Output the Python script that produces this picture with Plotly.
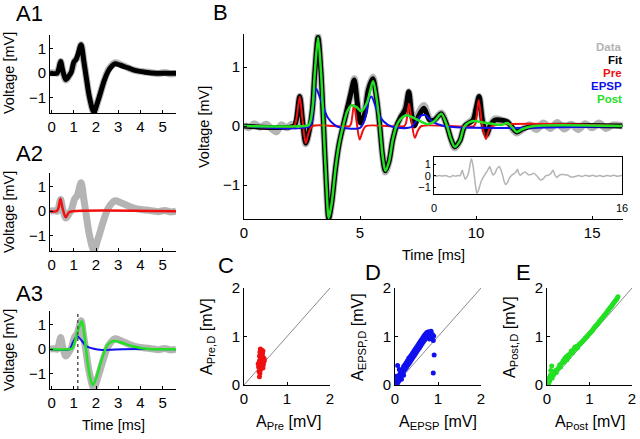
import plotly.graph_objects as go

W, H = 640, 439
FONT = "Liberation Sans, Arial, sans-serif"

GREY = "#b4b4b4"
RED = "#f01010"
BLUE = "#1010ee"
GREEN = "#22e022"

# ---- panel A (single event, time in ms, voltage in mV) ----
A_DATA = [(-0.07, 0.0), (0.1, 0.02), (0.25, 0.0), (0.33, 0.2), (0.41, 0.47), (0.5, 0.1),
          (0.64, -0.28), (0.78, -0.12), (0.89, 0.05), (1.04, 0.5), (1.15, 0.62), (1.33, 1.15),
          (1.45, 0.5), (1.55, -0.1), (1.7, -0.95), (1.9, -1.6), (2.1, -1.1), (2.37, -0.3),
          (2.55, 0.12), (2.67, 0.28), (2.86, 0.42), (3.1, 0.35), (3.48, 0.2), (3.8, 0.1),
          (4.22, 0.05), (4.5, 0.02), (4.8, -0.02), (5.1, 0.03), (5.35, -0.03), (5.6, 0.0)]
A_FIT = [(-0.07, 0.0), (0.25, 0.0), (0.33, 0.2), (0.41, 0.47), (0.5, 0.12), (0.64, -0.26),
         (0.78, -0.12), (0.89, 0.04), (1.0, 0.45), (1.1, 0.55), (1.2, 0.8), (1.33, 1.15),
         (1.45, 0.5), (1.55, -0.1), (1.7, -0.95), (1.9, -1.58), (2.1, -1.1), (2.37, -0.3),
         (2.55, 0.08), (2.67, 0.24), (2.86, 0.38), (3.1, 0.32), (3.48, 0.2), (3.8, 0.1),
         (4.22, 0.04), (4.7, 0.0), (5.6, 0.0)]
A_PRE = [(-0.07, 0.0), (0.22, 0.0), (0.3, 0.1), (0.4, 0.5), (0.5, 0.1), (0.64, -0.25),
         (0.78, -0.05), (0.95, 0.0), (5.6, 0.0)]
A_EPSP = [(-0.07, 0.0), (0.81, 0.0), (0.95, 0.25), (1.15, 0.53), (1.35, 0.35), (1.55, 0.13),
          (1.75, 0.05), (2.0, 0.0), (2.3, -0.03), (2.7, -0.02), (3.2, 0.0), (5.6, 0.0)]
A_POST = [(-0.07, 0.0), (0.85, 0.0), (0.95, 0.05), (1.04, 0.28), (1.2, 0.8), (1.36, 1.13),
          (1.45, 0.75), (1.55, 0.0), (1.7, -1.0), (1.85, -1.47), (2.0, -1.2), (2.22, -0.53),
          (2.49, 0.13), (2.65, 0.28), (2.86, 0.33), (3.2, 0.25), (3.6, 0.13), (4.0, 0.05),
          (4.5, 0.0), (5.6, 0.0)]
A_MARK_T = 1.18

# ---- panel B (full trace) ----
B_DATA = [(0, 0.02), (0.2, -0.03), (0.45, 0.04), (0.7, -0.02), (0.95, 0.03), (1.2, -0.05),
          (1.4, -0.1), (1.6, 0.02), (1.85, -0.03), (2.05, 0.03), (2.2, 0.0), (2.27, 0.1),
          (2.4, 0.5), (2.52, 0.1), (2.66, -0.3), (2.8, -0.1), (2.95, 0.3), (3.05, 0.9),
          (3.19, 1.52), (3.32, 0.9), (3.43, 0.0), (3.55, -1.0), (3.65, -1.57), (3.78, -1.3),
          (3.95, -0.7), (4.1, -0.3), (4.27, 0.0), (4.45, 0.3), (4.6, 0.55), (4.75, 0.8),
          (4.88, 0.42), (5.02, 0.08), (5.2, 0.25), (5.35, 0.62), (5.55, 0.83), (5.72, 0.45),
          (5.85, 0.0), (5.97, -0.5), (6.09, -0.78), (6.25, -0.6), (6.4, -0.25), (6.57, 0.0),
          (6.75, 0.15), (6.95, 0.3), (7.1, 0.58), (7.22, 0.22), (7.35, 0.05), (7.5, 0.2),
          (7.75, 0.35), (8.0, 0.12), (8.2, 0.1), (8.5, 0.22), (8.75, 0.0), (8.9, -0.2),
          (9.08, -0.37), (9.3, -0.25), (9.51, 0.0), (9.87, 0.12), (10.0, 0.3), (10.13, 0.5),
          (10.27, 0.12), (10.45, -0.15), (10.6, 0.0), (10.8, 0.12), (11.1, 0.1), (11.35, 0.07),
          (11.55, -0.04), (11.75, -0.12), (12.0, -0.06), (12.3, 0.02), (12.6, -0.06),
          (12.9, 0.05), (13.2, -0.04), (13.5, 0.06), (13.8, -0.05), (14.1, 0.03), (14.4, -0.06),
          (14.7, 0.04), (15.0, -0.03), (15.3, 0.05), (15.6, -0.04), (15.9, 0.02), (16.3, 0.0)]
B_FIT = [(0, 0.0), (2.15, 0.0), (2.25, 0.1), (2.4, 0.5), (2.52, 0.1), (2.66, -0.29),
         (2.8, -0.1), (2.95, 0.3), (3.05, 0.9), (3.19, 1.5), (3.32, 0.9), (3.43, 0.0),
         (3.55, -1.0), (3.65, -1.56), (3.78, -1.3), (3.95, -0.7), (4.1, -0.3), (4.27, 0.0),
         (4.45, 0.3), (4.6, 0.55), (4.75, 0.78), (4.88, 0.4), (5.02, 0.05), (5.2, 0.2),
         (5.35, 0.6), (5.55, 0.8), (5.72, 0.45), (5.85, 0.0), (5.97, -0.5), (6.09, -0.76),
         (6.25, -0.6), (6.4, -0.25), (6.57, 0.0), (6.75, 0.15), (6.95, 0.28), (7.1, 0.58),
         (7.22, 0.2), (7.35, 0.0), (7.5, 0.15), (7.75, 0.3), (8.0, 0.1), (8.2, 0.1),
         (8.5, 0.21), (8.75, 0.0), (8.9, -0.2), (9.08, -0.35), (9.3, -0.25), (9.51, 0.0),
         (9.87, 0.1), (10.0, 0.3), (10.13, 0.5), (10.27, 0.1), (10.45, -0.15), (10.6, 0.0),
         (10.8, 0.1), (11.1, 0.1), (11.35, 0.07), (11.55, -0.02), (11.75, -0.1), (12.0, -0.05),
         (12.5, 0.0), (16.3, 0.0)]
B_PRE = [(0, 0.0), (2.15, 0.0), (2.25, 0.1), (2.4, 0.5), (2.52, 0.1), (2.66, -0.29),
         (2.8, -0.1), (2.95, 0.0), (4.55, 0.0), (4.62, 0.05), (4.74, 0.36), (4.86, 0.05),
         (4.98, -0.23), (5.12, -0.08), (5.25, 0.0), (6.9, 0.0), (6.98, 0.05), (7.11, 0.38),
         (7.23, 0.05), (7.36, -0.2), (7.5, -0.07), (7.65, 0.0), (9.9, 0.0), (9.98, 0.05),
         (10.11, 0.44), (10.25, 0.05), (10.42, -0.22), (10.55, -0.07), (10.7, 0.0), (16.3, 0.0)]
B_EPSP = [(0, 0.0), (2.85, 0.0), (2.95, 0.2), (3.1, 0.64), (3.3, 0.45), (3.6, 0.15),
          (3.9, 0.02), (4.2, -0.03), (5.0, -0.03), (5.2, 0.1), (5.35, 0.4), (5.49, 0.5),
          (5.7, 0.3), (5.92, 0.12), (6.2, 0.02), (6.5, -0.02), (7.2, -0.02), (7.45, 0.1),
          (7.65, 0.18), (7.8, 0.19), (8.1, 0.08), (8.6, 0.0), (16.3, 0.0)]
B_POST = [(0, 0.0), (2.6, 0.0), (2.8, 0.02), (2.95, 0.3), (3.05, 0.9), (3.19, 1.5),
          (3.32, 0.9), (3.43, 0.0), (3.55, -1.0), (3.65, -1.56), (3.78, -1.3), (3.95, -0.7),
          (4.1, -0.3), (4.27, 0.0), (4.45, 0.25), (4.63, 0.35), (4.85, 0.32), (5.06, 0.25),
          (5.3, 0.4), (5.56, 0.76), (5.72, 0.45), (5.85, 0.0), (5.97, -0.5), (6.09, -0.76),
          (6.25, -0.6), (6.4, -0.25), (6.57, 0.0), (6.75, 0.12), (6.95, 0.18), (7.2, 0.16),
          (7.5, 0.1), (7.93, 0.03), (8.2, 0.08), (8.5, 0.21), (8.75, 0.0), (8.9, -0.2),
          (9.08, -0.35), (9.3, -0.25), (9.51, 0.0), (9.87, 0.085), (10.3, 0.06), (10.8, 0.03),
          (11.1, 0.02), (11.35, 0.05), (11.55, -0.02), (11.75, -0.1), (12.0, -0.05),
          (12.5, 0.0), (16.3, 0.0)]

# ---- panels C, D, E (amplitudes, mV) ----
C_PTS = [(0.38, 0.74), (0.41, 0.72), (0.44, 0.70), (0.37, 0.68), (0.40, 0.66), (0.43, 0.64),
         (0.39, 0.62), (0.36, 0.60), (0.42, 0.58), (0.45, 0.56), (0.40, 0.55), (0.47, 0.54),
         (0.38, 0.52), (0.43, 0.51), (0.36, 0.50), (0.41, 0.49), (0.46, 0.48), (0.39, 0.47),
         (0.44, 0.46), (0.35, 0.45), (0.42, 0.44), (0.38, 0.43), (0.45, 0.42), (0.40, 0.41),
         (0.36, 0.40), (0.43, 0.39), (0.39, 0.38), (0.34, 0.37), (0.41, 0.36), (0.37, 0.34),
         (0.44, 0.35), (0.38, 0.31), (0.35, 0.28), (0.37, 0.24), (0.36, 0.17), (0.33, 0.44),
         (0.47, 0.50), (0.40, 0.70)]
D_PTS = [(0.00, 0.00), (0.01, 0.03), (0.02, 0.01), (0.03, 0.06), (0.04, 0.02), (0.05, 0.09),
         (0.06, 0.04), (0.07, 0.12), (0.08, 0.07), (0.09, 0.15), (0.10, 0.10), (0.11, 0.22),
         (0.12, 0.14), (0.13, 0.26), (0.14, 0.18), (0.15, 0.30), (0.16, 0.21), (0.17, 0.24),
         (0.18, 0.33), (0.19, 0.27), (0.20, 0.38), (0.21, 0.30), (0.22, 0.35), (0.23, 0.42),
         (0.24, 0.33), (0.25, 0.40), (0.26, 0.46), (0.27, 0.37), (0.28, 0.44), (0.29, 0.50),
         (0.30, 0.41), (0.31, 0.48), (0.32, 0.55), (0.33, 0.45), (0.34, 0.52), (0.35, 0.58),
         (0.36, 0.49), (0.37, 0.56), (0.38, 0.62), (0.39, 0.53), (0.40, 0.60), (0.41, 0.66),
         (0.42, 0.57), (0.43, 0.64), (0.44, 0.70), (0.45, 0.61), (0.46, 0.68), (0.47, 0.74),
         (0.48, 0.65), (0.49, 0.72), (0.50, 0.78), (0.51, 0.69), (0.52, 0.76), (0.53, 0.82),
         (0.54, 0.73), (0.55, 0.80), (0.56, 0.86), (0.57, 0.77), (0.58, 0.84), (0.59, 0.90),
         (0.60, 0.81), (0.61, 0.88), (0.62, 0.94), (0.63, 0.85), (0.64, 0.92), (0.65, 0.98),
         (0.66, 0.89), (0.67, 0.96), (0.68, 1.02), (0.69, 0.93), (0.70, 1.00), (0.71, 1.05),
         (0.72, 0.97), (0.73, 1.03), (0.74, 1.08), (0.75, 0.99), (0.76, 1.06), (0.78, 1.10),
         (0.79, 1.02), (0.80, 0.95), (0.81, 1.07), (0.83, 1.00), (0.84, 1.11), (0.86, 0.97),
         (0.87, 1.04), (0.89, 0.92), (0.90, 1.01), (0.91, 0.62), (0.89, 0.25), (0.06, 0.40),
         (0.03, 0.18), (0.15, 0.12), (0.20, 0.20), (0.10, 0.32)]
E_PTS = [(0.00, 0.00), (0.01, 0.05), (0.02, 0.02), (0.03, 0.10), (0.04, 0.04), (0.05, 0.15),
         (0.06, 0.08), (0.07, 0.12), (0.08, 0.20), (0.11, 0.39), (0.09, 0.30), (0.12, 0.14),
         (0.15, 0.20), (0.18, 0.24), (0.20, 0.30), (0.22, 0.26), (0.25, 0.33), (0.28, 0.36),
         (0.30, 0.42), (0.32, 0.37), (0.35, 0.45), (0.38, 0.50), (0.40, 0.47), (0.42, 0.55),
         (0.45, 0.58), (0.47, 0.52), (0.50, 0.62), (0.52, 0.58), (0.55, 0.65), (0.57, 0.70),
         (0.60, 0.66), (0.62, 0.72), (0.65, 0.78), (0.67, 0.74), (0.70, 0.80), (0.72, 0.77),
         (0.75, 0.83), (0.78, 0.85), (0.80, 0.87), (0.83, 0.89), (0.85, 0.92), (0.88, 0.94),
         (0.90, 0.97), (0.93, 0.99), (0.95, 1.01), (0.98, 1.04), (1.00, 1.06), (1.03, 1.09),
         (1.05, 1.11), (1.08, 1.14), (1.10, 1.17), (1.13, 1.20), (1.15, 1.22), (1.18, 1.25),
         (1.20, 1.27), (1.23, 1.31), (1.25, 1.33), (1.28, 1.36), (1.30, 1.38), (1.33, 1.42),
         (1.35, 1.44), (1.38, 1.47), (1.40, 1.49), (1.43, 1.53), (1.45, 1.55), (1.48, 1.59),
         (1.50, 1.61), (1.53, 1.64), (1.55, 1.67), (1.58, 1.70), (1.60, 1.73), (1.63, 1.76),
         (1.65, 1.79), (1.67, 1.82)]
UNITY = [0, 2]

LEGEND = [("Data", GREY), ("Fit", "black"), ("Pre", RED), ("EPSP", BLUE), ("Post", GREEN)]


def xd(l, r):
    return [l / W, r / W]


def yd(t, b):
    return [1 - b / H, 1 - t / H]


def split(pts):
    return [p[0] for p in pts], [p[1] for p in pts]


fig = go.Figure()


def line(pts, ax, color, width):
    x, y = split(pts)
    fig.add_trace(go.Scatter(x=x, y=y, mode="lines", xaxis="x" + ax, yaxis="y" + ax,
                             line=dict(color=color, width=width, shape="spline", smoothing=0.8),
                             showlegend=False, hoverinfo="skip"))


def dots(pts, ax, color):
    x, y = split(pts)
    fig.add_trace(go.Scatter(x=UNITY, y=UNITY, mode="lines", xaxis="x" + ax, yaxis="y" + ax,
                             line=dict(color="#8a8a8a", width=1), showlegend=False))
    fig.add_trace(go.Scatter(x=x, y=y, mode="markers", xaxis="x" + ax, yaxis="y" + ax,
                             marker=dict(color=color, size=5), showlegend=False))


# A1, A2, A3
line(A_DATA, "1", GREY, 7)
line(A_FIT, "1", "black", 5)
line(A_DATA, "2", GREY, 7)
line(A_PRE, "2", RED, 2.5)
line(A_DATA, "3", GREY, 7)
line(A_EPSP, "3", BLUE, 2)
line(A_POST, "3", GREEN, 2.5)
# B
line(B_DATA, "4", GREY, 7)
line(B_FIT, "4", "black", 5)
line(B_PRE, "4", RED, 2)
line(B_EPSP, "4", BLUE, 2)
line(B_POST, "4", GREEN, 2.5)
# inset
line(B_DATA, "5", GREY, 1.5)
# C, D, E
dots(C_PTS, "6", RED)
dots(D_PTS, "7", BLUE)
dots(E_PTS, "8", GREEN)

base = dict(showline=True, linecolor="black", linewidth=1, ticks="inside", ticklen=3,
            tickcolor="black", showgrid=False, zeroline=False, automargin=False,
            tickfont=dict(size=15, color="black", family=FONT))

A_X = dict(base, range=[-0.07, 5.6], tickvals=[0, 1, 2, 3, 4, 5], domain=xd(50, 176))
A_Y = dict(base, range=[-1.62, 1.55], tickvals=[-1, 0, 1])
small = dict(size=11, color="black", family=FONT)
lay = dict(
    xaxis=dict(A_X, anchor="y"), yaxis=dict(A_Y, anchor="x", domain=yd(35, 113)),
    xaxis2=dict(A_X, anchor="y2"), yaxis2=dict(A_Y, anchor="x2", domain=yd(173, 251)),
    xaxis3=dict(A_X, anchor="y3"), yaxis3=dict(A_Y, anchor="x3", domain=yd(311, 389)),
    xaxis4=dict(base, anchor="y4", range=[0, 16.33], tickvals=[0, 5, 10, 15], domain=xd(244, 623)),
    yaxis4=dict(base, anchor="x4", range=[-1.576, 1.56], tickvals=[-1, 0, 1], domain=yd(34, 219)),
    xaxis5=dict(base, anchor="y5", range=[0, 16], tickvals=[0, 16], domain=xd(434, 622),
                mirror=True, tickfont=small, ticklen=2, ticklabelstandoff=4),
    yaxis5=dict(base, anchor="x5", range=[-1.62, 1.68], tickvals=[-1, 0, 1], domain=yd(157, 194),
                mirror=True, tickfont=small, ticklen=2),
)
for i, (l, r) in zip("678", [(244, 330), (395, 481), (547, 632)]):
    lay["xaxis" + i] = dict(base, anchor="y" + i, range=[0, 2], tickvals=[0, 1, 2], domain=xd(l, r))
    lay["yaxis" + i] = dict(base, anchor="x" + i, range=[0, 2], tickvals=[0, 1, 2], domain=yd(288, 385))

ann = []


def text(x, y, s, size=15, angle=0, xanchor="center", color="black", bold=False):
    if bold:
        s = "<b>" + s + "</b>"
    ann.append(dict(x=x / W, y=1 - y / H, xref="paper", yref="paper", text=s, showarrow=False,
                    textangle=angle, xanchor=xanchor, yanchor="middle",
                    font=dict(size=size, color=color, family=FONT)))


for lab, x, y in [("A1", 29, 14), ("A2", 29, 153), ("A3", 29, 293), ("B", 220, 13),
                  ("C", 226, 265), ("D", 373, 272), ("E", 523, 272)]:
    text(x, y, lab, size=22)
for yc in [73, 212, 350]:
    text(9, yc, "Voltage [mV]", size=14.5, angle=-90)
text(204, 127, "Voltage [mV]", size=14.5, angle=-90)
text(113, 425, "Time [ms]", size=14.5)
text(433, 255, "Time [ms]", size=14.5)
for i, (name, col) in enumerate(LEGEND):
    text(624, 47 + 13 * i, name, size=11.5, xanchor="right", color=col, bold=True)
text(288, 422, "A<sub>Pre</sub> [mV]", size=16)
text(438, 422, "A<sub>EPSP</sub> [mV]", size=16)
text(590, 422, "A<sub>Post</sub> [mV]", size=16)
text(207, 337, "A<sub>Pre,D</sub> [mV]", size=16, angle=-90)
text(358, 337, "A<sub>EPSP,D</sub> [mV]", size=16, angle=-90)
text(510, 337, "A<sub>Post,D</sub> [mV]", size=16, angle=-90)

shapes = [dict(type="line", xref="x3", yref="y3 domain", x0=A_MARK_T, x1=A_MARK_T, y0=0, y1=1,
               line=dict(color="#555555", width=1.5, dash="dot"))]

fig.update_layout(width=W, height=H, margin=dict(l=0, r=0, t=0, b=0),
                  paper_bgcolor="white", plot_bgcolor="white",
                  font=dict(family=FONT, color="black"),
                  annotations=ann, shapes=shapes, **lay)
fig.write_html("out.html", config={"displayModeBar": False},
               post_script="document.body.style.margin='0px';")
